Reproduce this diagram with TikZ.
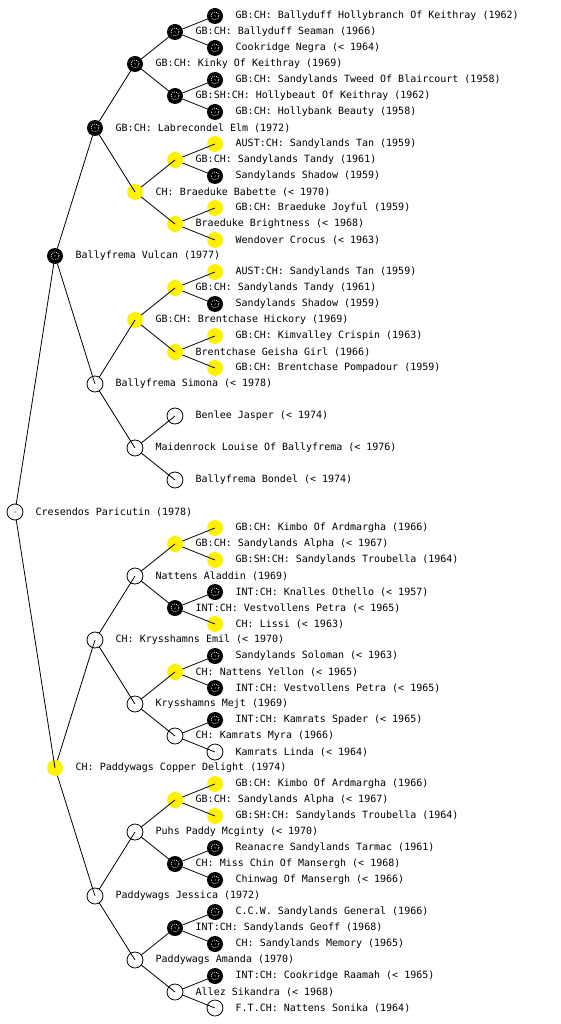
\documentclass[tikz,border=0pt]{standalone}
\usepackage{fontspec}
\newfontfamily\labfont{DejaVu Sans Mono}
\newcommand\PN[5]{\node[#2] (#1) at (#3,#4) {}; \node[lab] (#1t) at (#3+20.5,#4) {#5};}
\begin{document}
\begin{tikzpicture}[x=1pt,y=-1pt,
  base/.style={circle, minimum size=16pt, inner sep=0pt, outer sep=0pt},
  wt/.style={base, draw=black, fill=white, line width=0.8pt},
  yl/.style={base, fill=yellow},
  dk/.style={base, fill=black, path picture={\draw[white, line width=0.8pt, dash pattern=on 0.8pt off 1.3pt] (path picture bounding box.center) circle (4pt); \fill[white] (path picture bounding box.center) circle (0.6pt);}},
  lab/.style={anchor=west, inner sep=0pt, font=\labfont\fontsize{10}{12}\selectfont},
  edge/.style={draw=black, line width=0.8pt}]
\useasboundingbox (0,0) rectangle (560,1024);
% level 0
\PN{c0}{wt}{15}{512}{Cresendos Paricutin (1978)}
% level 1
\PN{v1}{dk}{55}{256}{Ballyfrema Vulcan (1977)}
\PN{v2}{yl}{55}{768}{CH: Paddywags Copper Delight (1974)}
% level 2
\PN{a1}{dk}{95}{128}{GB:CH: Labrecondel Elm (1972)}
\PN{a2}{wt}{95}{384}{Ballyfrema Simona (< 1978)}
\PN{a3}{wt}{95}{640}{CH: Krysshamns Emil (< 1970)}
\PN{a4}{wt}{95}{896}{Paddywags Jessica (1972)}
% level 3
\PN{b1}{dk}{135}{64}{GB:CH: Kinky Of Keithray (1969)}
\PN{b2}{yl}{135}{192}{CH: Braeduke Babette (< 1970)}
\PN{b3}{yl}{135}{320}{GB:CH: Brentchase Hickory (1969)}
\PN{b4}{wt}{135}{448}{Maidenrock Louise Of Ballyfrema (< 1976)}
\PN{b5}{wt}{135}{576}{Nattens Aladdin (1969)}
\PN{b6}{wt}{135}{704}{Krysshamns Mejt (1969)}
\PN{b7}{wt}{135}{832}{Puhs Paddy Mcginty (< 1970)}
\PN{b8}{wt}{135}{960}{Paddywags Amanda (1970)}
% level 4
\PN{d1}{dk}{175}{32}{GB:CH: Ballyduff Seaman (1966)}
\PN{d2}{dk}{175}{96}{GB:SH:CH: Hollybeaut Of Keithray (1962)}
\PN{d3}{yl}{175}{160}{GB:CH: Sandylands Tandy (1961)}
\PN{d4}{yl}{175}{224}{Braeduke Brightness (< 1968)}
\PN{d5}{yl}{175}{288}{GB:CH: Sandylands Tandy (1961)}
\PN{d6}{yl}{175}{352}{Brentchase Geisha Girl (1966)}
\PN{d7}{wt}{175}{416}{Benlee Jasper (< 1974)}
\PN{d8}{wt}{175}{480}{Ballyfrema Bondel (< 1974)}
\PN{d9}{yl}{175}{544}{GB:CH: Sandylands Alpha (< 1967)}
\PN{d10}{dk}{175}{608}{INT:CH: Vestvollens Petra (< 1965)}
\PN{d11}{yl}{175}{672}{CH: Nattens Yellon (< 1965)}
\PN{d12}{wt}{175}{736}{CH: Kamrats Myra (1966)}
\PN{d13}{yl}{175}{800}{GB:CH: Sandylands Alpha (< 1967)}
\PN{d14}{dk}{175}{864}{CH: Miss Chin Of Mansergh (< 1968)}
\PN{d15}{dk}{175}{928}{INT:CH: Sandylands Geoff (1968)}
\PN{d16}{wt}{175}{992}{Allez Sikandra (< 1968)}
% level 5
\PN{e1}{dk}{215}{16}{GB:CH: Ballyduff Hollybranch Of Keithray (1962)}
\PN{e2}{dk}{215}{48}{Cookridge Negra (< 1964)}
\PN{e3}{dk}{215}{80}{GB:CH: Sandylands Tweed Of Blaircourt (1958)}
\PN{e4}{dk}{215}{112}{GB:CH: Hollybank Beauty (1958)}
\PN{e5}{yl}{215}{144}{AUST:CH: Sandylands Tan (1959)}
\PN{e6}{dk}{215}{176}{Sandylands Shadow (1959)}
\PN{e7}{yl}{215}{208}{GB:CH: Braeduke Joyful (1959)}
\PN{e8}{yl}{215}{240}{Wendover Crocus (< 1963)}
\PN{e9}{yl}{215}{272}{AUST:CH: Sandylands Tan (1959)}
\PN{e10}{dk}{215}{304}{Sandylands Shadow (1959)}
\PN{e11}{yl}{215}{336}{GB:CH: Kimvalley Crispin (1963)}
\PN{e12}{yl}{215}{368}{GB:CH: Brentchase Pompadour (1959)}
\PN{e17}{yl}{215}{528}{GB:CH: Kimbo Of Ardmargha (1966)}
\PN{e18}{yl}{215}{560}{GB:SH:CH: Sandylands Troubella (1964)}
\PN{e19}{dk}{215}{592}{INT:CH: Knalles Othello (< 1957)}
\PN{e20}{yl}{215}{624}{CH: Lissi (< 1963)}
\PN{e21}{dk}{215}{656}{Sandylands Soloman (< 1963)}
\PN{e22}{dk}{215}{688}{INT:CH: Vestvollens Petra (< 1965)}
\PN{e23}{dk}{215}{720}{INT:CH: Kamrats Spader (< 1965)}
\PN{e24}{wt}{215}{752}{Kamrats Linda (< 1964)}
\PN{e25}{yl}{215}{784}{GB:CH: Kimbo Of Ardmargha (1966)}
\PN{e26}{yl}{215}{816}{GB:SH:CH: Sandylands Troubella (1964)}
\PN{e27}{dk}{215}{848}{Reanacre Sandylands Tarmac (1961)}
\PN{e28}{dk}{215}{880}{Chinwag Of Mansergh (< 1966)}
\PN{e29}{dk}{215}{912}{C.C.W. Sandylands General (1966)}
\PN{e30}{dk}{215}{944}{CH: Sandylands Memory (1965)}
\PN{e31}{dk}{215}{976}{INT:CH: Cookridge Raamah (< 1965)}
\PN{e32}{wt}{215}{1008}{F.T.CH: Nattens Sonika (1964)}
% root dot
\fill (c0.center) circle (0.7pt);
% edges
\foreach \p/\c in {c0/v1,c0/v2,v1/a1,v1/a2,v2/a3,v2/a4,
  a1/b1,a1/b2,a2/b3,a2/b4,a3/b5,a3/b6,a4/b7,a4/b8,
  b1/d1,b1/d2,b2/d3,b2/d4,b3/d5,b3/d6,b4/d7,b4/d8,
  b5/d9,b5/d10,b6/d11,b6/d12,b7/d13,b7/d14,b8/d15,b8/d16,
  d1/e1,d1/e2,d2/e3,d2/e4,d3/e5,d3/e6,d4/e7,d4/e8,
  d5/e9,d5/e10,d6/e11,d6/e12,d9/e17,d9/e18,d10/e19,d10/e20,
  d11/e21,d11/e22,d12/e23,d12/e24,d13/e25,d13/e26,d14/e27,d14/e28,
  d15/e29,d15/e30,d16/e31,d16/e32}
  \draw[edge] (\p) -- (\c.center);
\end{tikzpicture}
\end{document}
